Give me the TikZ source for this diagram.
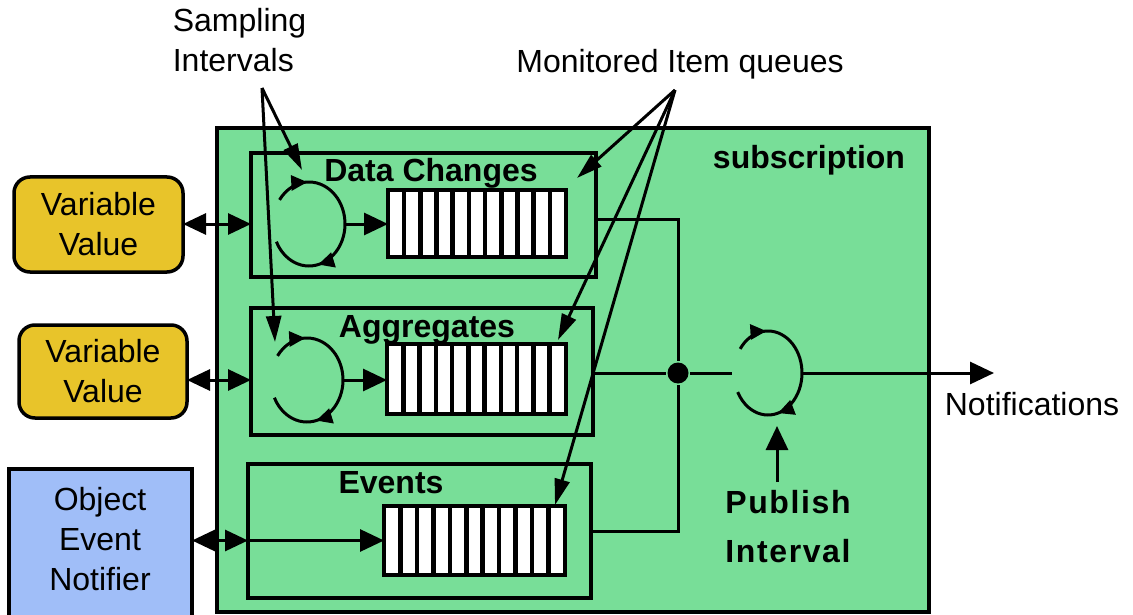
\documentclass[tikz,border=0pt]{standalone}
\usepackage{fontspec}
\setmainfont{Liberation Sans}
\usetikzlibrary{arrows.meta,decorations.markings,calc}
\definecolor{subgreen}{RGB}{120,222,152}
\definecolor{vargold}{RGB}{232,196,42}
\definecolor{objblue}{RGB}{160,190,248}
\begin{document}
\begin{tikzpicture}[x=1pt,y=1pt,line width=3pt,
  every node/.style={font=\fontsize{32}{40}\selectfont},
  box/.style={draw,line width=3.5pt,inner sep=0pt,outer sep=0pt,anchor=north west},
  queue/.style={draw,fill=white,line width=4pt,inner sep=0pt,outer sep=0pt,anchor=north west,
    path picture={\foreach \i in {1,...,10}{
      \draw[line width=4.5pt] ($(path picture bounding box.north west)!\i/11!(path picture bounding box.north east)$)
        -- ($(path picture bounding box.south west)!\i/11!(path picture bounding box.south east)$);}}},
  lbl/.style={anchor=base,font=\fontsize{32}{40}\selectfont\bfseries},
  txt/.style={anchor=base west},
  tip/.style={-{Triangle[length=24pt,width=22pt]}},
  dtip/.style={{Triangle[length=23pt,width=21pt]}-{Triangle[length=23pt,width=21pt]}},
  thintip/.style={-{Triangle[length=26pt,width=15pt]}},
  cyc/.style={postaction={decorate},decoration={markings,
    mark=at position 0.17 with {\arrow{Triangle[length=16pt,width=15pt]}},
    mark=at position 0.74 with {\arrow{Triangle[length=16pt,width=15pt]}}}}
]
\useasboundingbox (0,0) rectangle (1133,-615);

% subscription frame
\node[box,fill=subgreen,minimum width=712pt,minimum height=484pt] (sub) at (217,-128) {};
\node[lbl] (subl) at (809,-168) {subscription};

% external sources
\node[draw,line width=3.5pt,fill=vargold,rounded corners=16pt,inner sep=0pt,outer sep=0pt,
  anchor=north west,minimum width=169pt,minimum height=95pt,align=center] (vv1) at (14,-177) {Variable\\Value};
\node[draw,line width=3.5pt,fill=vargold,rounded corners=16pt,inner sep=0pt,outer sep=0pt,
  anchor=north west,minimum width=168pt,minimum height=93pt,align=center] (vv2) at (19,-325) {Variable\\Value};
\node[box,fill=objblue,minimum width=183pt,minimum height=170pt] (oen) at (9,-469) {};
\node[align=center] (oent) at (100,-539) {Object\\Event\\Notifier};

% inner boxes
\node[box,minimum width=345pt,minimum height=124pt] (dc) at (251,-153) {};
\node[box,minimum width=342pt,minimum height=127pt] (ag) at (251,-308) {};
\node[box,minimum width=343pt,minimum height=134pt] (ev) at (248,-464) {};
\node[lbl] (dcl) at (431,-182) {Data Changes};
\node[lbl] (agl) at (427,-337) {Aggregates};
\node[lbl] (evl) at (391,-493) {Events};

% queues
\node[queue,minimum width=178pt,minimum height=67pt] (dcq) at (388,-190) {};
\node[queue,minimum width=179pt,minimum height=70pt] (agq) at (387,-344) {};
\node[queue,minimum width=181pt,minimum height=69pt] (evq) at (384,-506) {};

% sampling cycles
\coordinate (dcc) at (309,-224);
\coordinate (agc) at (307,-380);
\coordinate (pubc) at (768,-373);
\coordinate (dcr) at (345,-224);
\coordinate (agr) at (343,-380);
\coordinate (publ) at (732,-373);
\coordinate (pubr) at (802,-373);
\draw[cyc] (dcc) ++(145:36 and 42) arc[start angle=145,end angle=-155,x radius=36,y radius=42];
\draw[cyc] (agc) ++(145:36 and 42) arc[start angle=145,end angle=-155,x radius=36,y radius=42];
\draw[cyc] (pubc) ++(145:34 and 42) arc[start angle=145,end angle=-153,x radius=34,y radius=42];

% input connectors
\draw[dtip] (vv1.east |- dcc) -- (dc.west |- dcc);
\draw[tip] (dcr) -- (dcr -| dcq.west);
\draw[dtip] (vv2.east |- agc) -- (ag.west |- agc);
\draw[tip] (agr) -- (agr -| agq.west);
\draw[dtip] (oen.east |- evq.west) -- (ev.west |- evq.west);
\draw[tip] (ev.west |- evq.west) -- (evq.west);

% output connectors
\node[circle,fill=black,inner sep=0pt,minimum size=21pt] (junc) at (678,-373) {};
\draw ([yshift=-4pt]dc.east) -| (junc);
\draw (ag.east |- junc) -- (junc);
\draw (ev.east) -| (junc);
\draw (junc) -- (publ);
\coordinate (notiftip) at (994,-373);
\draw[tip] (pubr) -- (notiftip);
\node[anchor=base] (notl) at (1032,-415) {Notifications};

% publish interval
\node[lbl,font=\fontsize{32}{40}\selectfont\bfseries\addfontfeature{LetterSpace=5}] (pub1) at (788,-513) {Publish};
\node[lbl,font=\fontsize{32}{40}\selectfont\bfseries\addfontfeature{LetterSpace=5}] (pub2) at (788,-562) {Interval};
\coordinate (pubin) at (777,-426);
\coordinate (pubtail) at (777,-482);
\draw[tip] (pubtail) -- (pubin);

% annotations
\node[txt] (sam1) at (168,-32) {Sampling};
\node[txt] (sam2) at (168,-72) {Intervals};
\coordinate (sapex) at (262,-88);
\coordinate (s1) at (302,-170);
\coordinate (s2) at (275,-342);
\draw[thintip] (sapex) -- (s1);
\draw[thintip] (sapex) -- (s2);

\node[anchor=base] (mon) at (680,-73) {Monitored Item queues};
\coordinate (mapex) at (675,-90);
\coordinate (m1) at (577,-178);
\coordinate (m2) at (558,-340);
\coordinate (m3) at (555,-505);
\draw[thintip] (mapex) -- (m1);
\draw[thintip] (mapex) -- (m2);
\draw[thintip] (mapex) -- (m3);
\end{tikzpicture}
\end{document}
